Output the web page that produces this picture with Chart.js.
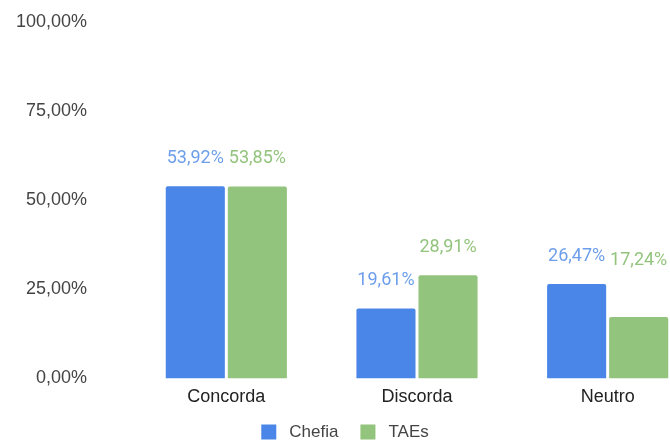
<!DOCTYPE html>
<html>
<head>
<meta charset="utf-8">
<script src="https://cdn.jsdelivr.net/npm/chart.js@4"></script>
<style>
  html, body { margin: 0; padding: 0; background: #fff; overflow: hidden; }
  #wrap { width: 704px; height: 441px; }
</style>
</head>
<body>
<div id="wrap"><canvas id="c" width="704" height="441"></canvas></div>
<script>
const categories = ['Concorda', 'Discorda', 'Neutro'];
const seriesNames = ['Chefia', 'TAEs'];
const chefia = [53.92, 19.61, 26.47];
const taes = [53.85, 28.91, 17.24];
const yTicks = [0, 25, 50, 75, 100];

const barColors = ['#4a86e8', '#93c47d'];
const labelColors = ['#6d9eeb', '#93c47d'];

function pct(v) {
  return v.toFixed(2).replace('.', ',') + '%';
}

// Value labels above each bar, in the series colour
const valueLabels = {
  id: 'valueLabels',
  afterDatasetsDraw(chart, args, opts) {
    const ctx = chart.ctx;
    ctx.save();
    ctx.font = '18px Roboto';
    ctx.textAlign = 'center';
    ctx.textBaseline = 'middle';
    chart.data.datasets.forEach((ds, di) => {
      chart.getDatasetMeta(di).data.forEach((bar, i) => {
        const lift = (opts.extraLift[di + '-' + i] || 0);
        ctx.fillStyle = labelColors[di];
        ctx.fillText(pct(ds.data[i]), bar.x, bar.y - opts.gap - lift);
      });
    });
    ctx.restore();
  }
};

// Series key under the plot: square swatch + name
const seriesKey = {
  id: 'seriesKey',
  afterDraw(chart, args, opts) {
    const ctx = chart.ctx;
    ctx.save();
    ctx.font = opts.font;
    ctx.textBaseline = 'middle';
    ctx.textAlign = 'left';
    const items = chart.data.datasets.map(ds => ({
      text: ds.label, color: ds.backgroundColor, w: ctx.measureText(ds.label).width
    }));
    const total = items.reduce((s, it) => s + opts.box + opts.textGap + it.w, 0) + opts.itemGap * (items.length - 1);
    let x = opts.centerX - total / 2;
    const cy = chart.height - opts.bottom;
    items.forEach(it => {
      ctx.fillStyle = it.color;
      ctx.fillRect(x, cy - opts.box / 2, opts.box, opts.box);
      x += opts.box + opts.textGap;
      ctx.fillStyle = opts.color;
      ctx.fillText(it.text, x, cy);
      x += it.w + opts.itemGap;
    });
    ctx.restore();
  }
};

new Chart(document.getElementById('c'), {
  type: 'bar',
  data: {
    labels: categories,
    datasets: [
      { label: seriesNames[0], data: chefia, backgroundColor: barColors[0], borderRadius: 2 },
      { label: seriesNames[1], data: taes, backgroundColor: barColors[1], borderRadius: 2 }
    ]
  },
  options: {
    responsive: false,
    animation: false,
    events: [],
    layout: { padding: { top: 22, right: 1, bottom: 25, left: 0 } },
    datasets: { bar: { categoryPercentage: 0.651, barPercentage: 0.952 } },
    scales: {
      x: {
        grid: { display: false, drawTicks: false },
        border: { display: false },
        ticks: { padding: 8, color: '#222', font: { family: 'Liberation Sans, Arial', size: 18 } }
      },
      y: {
        min: 0, max: 100,
        afterBuildTicks(scale) { scale.ticks = yTicks.map(v => ({ value: v })); },
        grid: { display: false, drawTicks: false },
        border: { display: false },
        ticks: {
          padding: 44,
          color: '#444',
          font: { family: 'Liberation Sans, Arial', size: 18 },
          callback: v => pct(v)
        },
        afterFit(scale) {
          // wide gutter between labels and bars, without reserving extra vertical room
          scale.width = 131;
          scale.paddingTop = 11;
          scale.paddingBottom = 11;
        }
      }
    },
    plugins: {
      legend: { display: false },
      tooltip: { enabled: false },
      valueLabels: { gap: 28, extraLift: { '1-2': 28 } },
      seriesKey: { font: '17px "Liberation Sans", Arial', color: '#444', box: 15, textGap: 13, itemGap: 22, bottom: 9, centerX: 345 }
    }
  },
  plugins: [valueLabels, seriesKey]
});
</script>
</body>
</html>
